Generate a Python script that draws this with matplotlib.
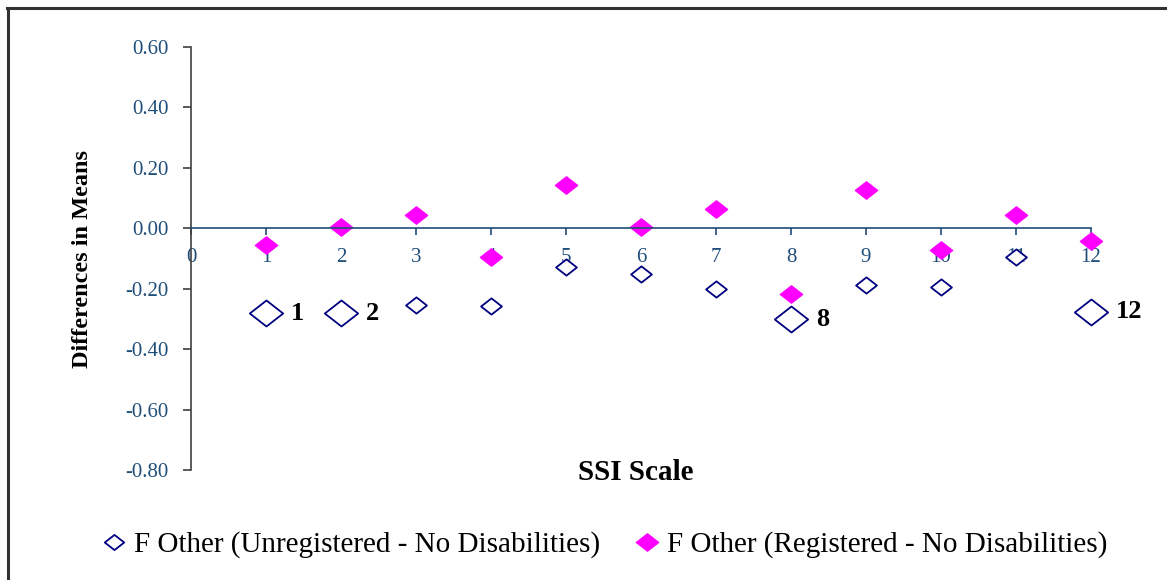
import matplotlib
matplotlib.use("Agg")
import matplotlib.pyplot as plt
from matplotlib.path import Path
from matplotlib.lines import Line2D

# ---- data ----
scale_items = [1, 2, 3, 4, 5, 6, 7, 8, 9, 10, 11, 12]
unregistered = [-0.281, -0.281, -0.254, -0.259, -0.129, -0.151, -0.202, -0.301, -0.187, -0.195, -0.094, -0.276]
registered = [-0.055, 0.005, 0.044, -0.097, 0.141, 0.005, 0.064, -0.217, 0.126, -0.072, 0.044, -0.041]
highlighted = [1, 2, 8, 12]
series_names = ["F Other (Unregistered - No Disabilities)", "F Other (Registered - No Disabilities)"]
y_ticks = [-0.8, -0.6, -0.4, -0.2, 0.0, 0.2, 0.4, 0.6]
x_ticks = list(range(0, 13))

NAVY = "#000080"
MAGENTA = "#FF00FF"
TICKC = "#1F4E79"
SERIF = ["Liberation Serif", "DejaVu Serif"]

diamond = Path([(-1, 0), (0, 0.78), (1, 0), (0, -0.78), (-1, 0)],
               [Path.MOVETO, Path.LINETO, Path.LINETO, Path.LINETO, Path.CLOSEPOLY])

fig = plt.figure(figsize=(11.67, 5.80), dpi=100)
ax = fig.add_axes([191/1167, 1-470/580, (1091-191)/1167, (470-46.7)/580])

# figure border (top and left visible)
fig.add_artist(Line2D([7/1167, 1.0], [1-7.5/580, 1-7.5/580], color="#333333", lw=2.2, transform=fig.transFigure))
fig.add_artist(Line2D([7.5/1167, 7.5/1167], [1-7.5/580, 0.0], color="#333333", lw=2.2, transform=fig.transFigure))

small_x = [x for x in scale_items if x not in highlighted]
small_y = [v for x, v in zip(scale_items, unregistered) if x not in highlighted]
big_x = [x for x in scale_items if x in highlighted]
big_y = [v for x, v in zip(scale_items, unregistered) if x in highlighted]

ax.plot(small_x, small_y, ls="none", marker=diamond, ms=15, mfc="white", mec=NAVY, mew=1.3, zorder=3, clip_on=False)
ax.plot(big_x, big_y, ls="none", marker=diamond, ms=24, mfc="white", mec=NAVY, mew=1.3, zorder=3, clip_on=False)
ax.plot(scale_items, registered, ls="none", marker=diamond, ms=16, mfc=MAGENTA, mec=MAGENTA, mew=1, zorder=2, clip_on=False)

for x, v in zip(big_x, big_y):
    ax.annotate(str(x), (x, v), xytext=(18, 0), textcoords="offset points", ha="left", va="center",
                fontsize=19, fontweight="bold", family=SERIF, color="black")

ax.set_xlim(0, 12)
ax.set_ylim(-0.8, 0.6)

for s in ["top", "right"]:
    ax.spines[s].set_visible(False)
ax.spines["left"].set_color("#404040")
ax.spines["left"].set_linewidth(1.2)
ax.spines["bottom"].set_position(("data", 0))
ax.spines["bottom"].set_color(TICKC)
ax.spines["bottom"].set_linewidth(1.2)

ax.set_yticks(y_ticks)
ax.set_yticklabels([f"{v:.2f}" for v in y_ticks])
ax.set_xticks(x_ticks)
ax.set_xticklabels([str(v) for v in x_ticks])
ax.tick_params(axis="y", direction="out", length=6, width=1.2, color="#404040", labelcolor=TICKC, labelsize=15, pad=10)
ax.tick_params(axis="x", direction="out", length=5, width=1.2, color=TICKC, labelcolor=TICKC, labelsize=15, pad=9)
for lab in ax.get_xticklabels() + ax.get_yticklabels():
    lab.set_family(SERIF)

fig.text(83/1167, 1-259/580, "Differences in Means", rotation=90, ha="center", va="center",
         fontsize=17.5, fontweight="bold", family=SERIF)
fig.text(636/1167, 1-473/580, "SSI Scale", ha="center", va="center",
         fontsize=21, fontweight="bold", family=SERIF)

handles = [
    Line2D([], [], ls="none", marker=diamond, ms=14, mfc="white", mec=NAVY, mew=1.3),
    Line2D([], [], ls="none", marker=diamond, ms=16, mfc=MAGENTA, mec=MAGENTA),
]
fig.legend(handles, series_names, loc="center", bbox_to_anchor=(605/1167, 1-545/580), ncol=2,
           frameon=False, prop={"family": SERIF, "size": 21}, handlelength=0.8, handletextpad=0.3,
           columnspacing=1.2)

fig.savefig("out.png", dpi=100)
